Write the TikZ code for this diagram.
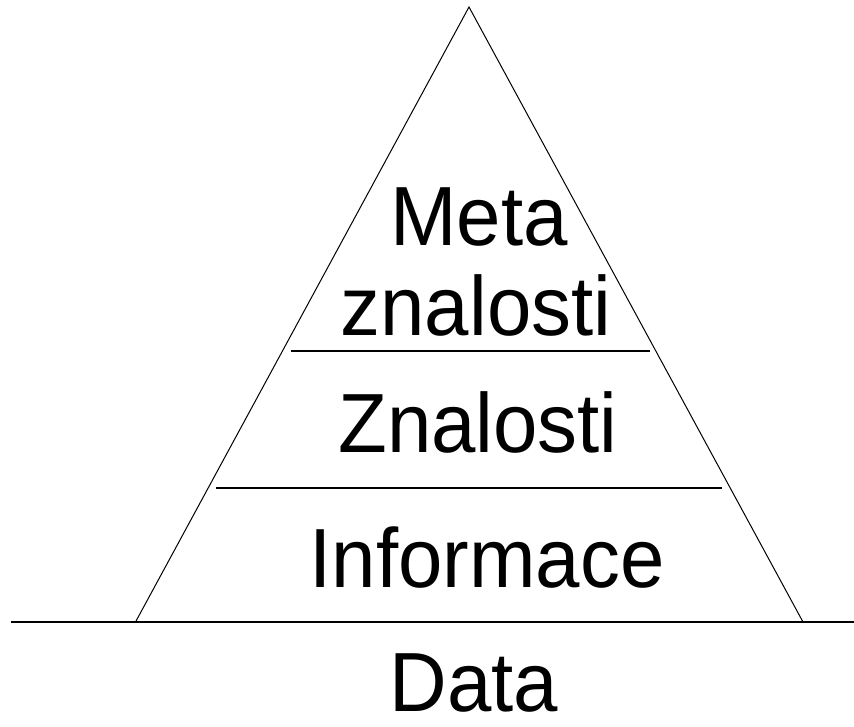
\documentclass[tikz,border=0pt]{standalone}
\usepackage{fontspec}
\setmainfont[FakeStretch=0.95]{Liberation Sans}
\begin{document}
\begin{tikzpicture}[x=1pt,y=-1pt]
\useasboundingbox (0,0) rectangle (854,726);
\tikzset{stufe/.style={anchor=base,inner sep=0pt,font=\fontsize{84}{92}\selectfont}}
% Pyramide:
\coordinate (spitze) at (469,7);
\coordinate (links) at (135.5,622);
\coordinate (rechts) at (803,622);
\draw [line width=1pt] (links) -- (spitze) -- (rechts);
% Grundlinie:
\coordinate (g1) at (11,622);
\coordinate (g2) at (854,622);
\draw [line width=1.3pt] (g1) -- (g2);
% Trennlinien:
\coordinate (a1) at (291,351);
\coordinate (a2) at (650,351);
\coordinate (b1) at (216,488);
\coordinate (b2) at (722,488);
\draw [line width=1.3pt] (a1) -- (a2);
\draw [line width=1.3pt] (b1) -- (b2);
% Beschriftung:
\node [stufe] (meta) at (479,245) {Meta};
\node [stufe] (metazn) at (476,335) {znalosti};
\node [stufe] (znal) at (478,452) {Znalosti};
\node [stufe] (info) at (487,587) {Informace};
\node [stufe] (data) at (474,711) {Data};
\end{tikzpicture}
\end{document}
